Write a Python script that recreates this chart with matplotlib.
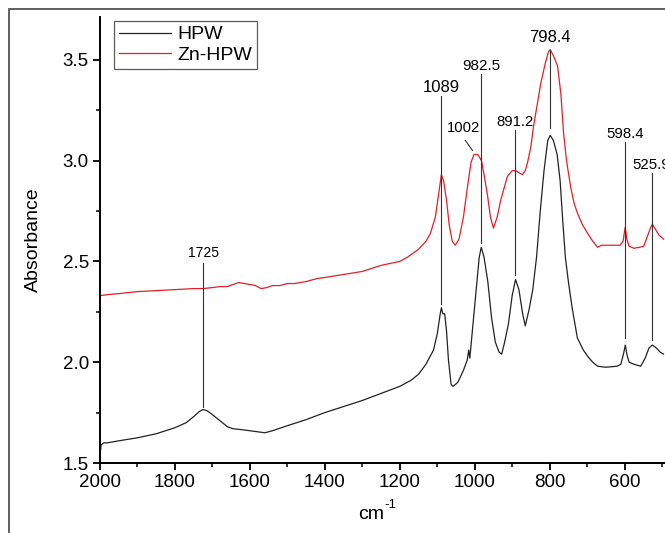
import matplotlib
matplotlib.use("Agg")
import matplotlib.pyplot as plt
from matplotlib.patches import Rectangle
from matplotlib.ticker import MultipleLocator

plt.rcParams['font.family'] = ['Liberation Sans', 'DejaVu Sans']

# HPW spectrum (wavenumber, absorbance)
hpw_wn = [2000, 1997, 1990, 1980, 1950, 1900, 1850, 1800, 1770, 1750, 1735, 1725,
          1715, 1700, 1680, 1660, 1645, 1620, 1600, 1580, 1560, 1540, 1500, 1450,
          1400, 1350, 1300, 1250, 1200, 1170, 1150, 1130, 1110, 1100, 1092, 1089,
          1085, 1080, 1075, 1070, 1063, 1058, 1045, 1030, 1020, 1016, 1013, 1005,
          995, 988, 982.5, 975, 965, 955, 945, 935, 928, 920, 910, 900, 891, 882,
          872, 865, 855, 845, 835, 825, 815, 805, 798.4, 790, 780, 772, 765, 758,
          750, 740, 726, 710, 699, 685, 672, 650, 620, 610, 603, 598, 594, 588,
          575, 557, 545, 535, 526, 515, 505, 496]
hpw_abs = [1.54, 1.59, 1.60, 1.60, 1.61, 1.625, 1.645, 1.675, 1.70, 1.73, 1.755, 1.765,
           1.76, 1.74, 1.71, 1.68, 1.67, 1.665, 1.66, 1.655, 1.65, 1.66, 1.685, 1.715,
           1.75, 1.78, 1.81, 1.845, 1.88, 1.91, 1.94, 1.99, 2.06, 2.14, 2.24, 2.27,
           2.24, 2.24, 2.15, 2.01, 1.89, 1.88, 1.90, 1.96, 2.01, 2.06, 2.02, 2.18,
           2.38, 2.52, 2.57, 2.52, 2.40, 2.22, 2.10, 2.05, 2.04, 2.10, 2.19, 2.33, 2.41, 2.36,
           2.24, 2.18, 2.26, 2.36, 2.52, 2.75, 2.95, 3.10, 3.125, 3.10, 3.03, 2.90, 2.70, 2.52,
           2.40, 2.27, 2.12, 2.06, 2.03, 2.00, 1.98, 1.975, 1.98, 1.99, 2.04, 2.085, 2.04, 2.00,
           1.99, 1.98, 2.02, 2.07, 2.085, 2.07, 2.05, 2.04]

# Zn-HPW spectrum
zn_wn = [2000, 1980, 1950, 1900, 1850, 1800, 1750, 1725, 1700, 1680, 1660, 1645,
         1630, 1615, 1600, 1585, 1570, 1555, 1540, 1520, 1500, 1480, 1450, 1420,
         1400, 1350, 1300, 1250, 1200, 1180, 1150, 1130, 1118, 1105, 1095, 1089,
         1083, 1075, 1068, 1060, 1052, 1042, 1030, 1020, 1010, 1002, 992, 982,
         975, 966, 958, 950, 940, 931, 913, 900, 891, 882, 873, 865, 859, 850,
         843, 833, 824, 812, 803, 798.4, 790, 779, 770, 763, 755, 744, 735, 726,
         712, 699, 685, 672, 662, 650, 630, 612, 604, 598.4, 594, 588, 575, 560,
         549, 540, 532, 526, 518, 508, 496]
zn_abs = [2.33, 2.335, 2.34, 2.35, 2.355, 2.36, 2.365, 2.365, 2.37, 2.375, 2.375, 2.385,
          2.395, 2.39, 2.385, 2.38, 2.365, 2.37, 2.38, 2.38, 2.39, 2.39, 2.40, 2.415,
          2.42, 2.435, 2.45, 2.48, 2.50, 2.52, 2.56, 2.60, 2.64, 2.72, 2.85, 2.93,
          2.90, 2.80, 2.68, 2.60, 2.58, 2.61, 2.72, 2.86, 2.99, 3.03, 3.03, 3.00,
          2.93, 2.83, 2.72, 2.665, 2.72, 2.80, 2.92, 2.95, 2.95, 2.94, 2.93, 2.95, 2.99, 3.07,
          3.17, 3.28, 3.38, 3.48, 3.54, 3.55, 3.52, 3.47, 3.33, 3.14, 3.00, 2.87, 2.79, 2.74,
          2.68, 2.64, 2.60, 2.57, 2.58, 2.58, 2.58, 2.58, 2.60, 2.67, 2.61, 2.575, 2.565, 2.57,
          2.575, 2.62, 2.66, 2.685, 2.66, 2.63, 2.61]

# peak labels: text, position of label, marker line range
peak_labels = ["1725", "1089", "982.5", "891.2", "798.4", "598.4", "525.9"]
peak_wn = [1725, 1089, 982.5, 891.2, 798.4, 598.4, 525.9]
label_y = [2.54, 3.36, 3.47, 3.19, 3.61, 3.13, 2.98]
line_top = [2.49, 3.32, 3.43, 3.15, 3.55, 3.09, 2.94]
line_bottom = [1.78, 2.29, 2.59, 2.43, 3.16, 2.12, 2.11]
label_size = [10, 12, 11, 10.7, 12, 10.8, 10.8]

fig = plt.figure(figsize=(6.65, 5.33), dpi=100)
ax = fig.add_axes([100 / 665, 70 / 533, 565 / 665, 446 / 533])

ax.plot(hpw_wn, hpw_abs, color='#222222', lw=0.9, label='HPW')
ax.plot(zn_wn, zn_abs, color='#e0202a', lw=0.9, label='Zn-HPW')

for lab, wn, ly, top, bot, fs in zip(peak_labels, peak_wn, label_y, line_top, line_bottom, label_size):
    ax.plot([wn, wn], [bot, top], color='#333333', lw=0.8)
    if lab == "525.9":
        # the reference cuts this label at the right edge of the picture
        ax.text(580, ly, lab, ha='left', va='center', fontsize=fs, clip_on=False)
    else:
        ax.text(wn, ly, lab, ha='center', va='center', fontsize=fs)

# 1002 shoulder label with a short slanted leader
ax.text(1030, 3.16, "1002", ha='center', va='center', fontsize=10.6)
ax.plot([1025, 1006], [3.10, 3.05], color='#333333', lw=0.8)

ax.set_xlim(2000, 2000 - 565 / 0.3747)
ax.set_ylim(1.5, 3.712)
ax.xaxis.set_major_locator(MultipleLocator(200))
ax.xaxis.set_minor_locator(MultipleLocator(100))
ax.yaxis.set_major_locator(MultipleLocator(0.5))
ax.yaxis.set_minor_locator(MultipleLocator(0.25))
ax.yaxis.set_major_formatter(plt.FormatStrFormatter('%.1f'))

for side in ['top', 'right']:
    ax.spines[side].set_visible(False)
for side in ['left', 'bottom']:
    ax.spines[side].set_linewidth(1.4)
ax.tick_params(which='major', direction='out', length=5, width=1.3, labelsize=13.5, pad=3)
ax.tick_params(which='minor', direction='out', length=3, width=1.1)

ax.set_ylabel('Absorbance', fontsize=14)
ax.yaxis.set_label_coords(-0.103, 0.5)

# x label "cm" with a hyphen superscript, as in the reference
ax.text(0.48, -0.126, 'cm', transform=ax.transAxes, ha='center', va='baseline', fontsize=14)
ax.text(0.503, -0.10, '-1', transform=ax.transAxes, ha='left', va='baseline', fontsize=9.5)

leg = ax.legend(loc='upper left', bbox_to_anchor=(10 / 565, 1.0), fontsize=14,
                frameon=True, fancybox=False, handlelength=2.7, borderpad=0.25,
                labelspacing=0.15, handletextpad=0.3, borderaxespad=0.2)
leg.get_frame().set_edgecolor('#333333')
leg.get_frame().set_linewidth(0.9)

# thin frame around the whole picture
fig.add_artist(Rectangle((9 / 665, -0.1), 1.2, (524 / 533) + 0.1, transform=fig.transFigure,
                         fill=False, edgecolor='#444444', lw=1.2))

fig.savefig('out.png', dpi=100)
